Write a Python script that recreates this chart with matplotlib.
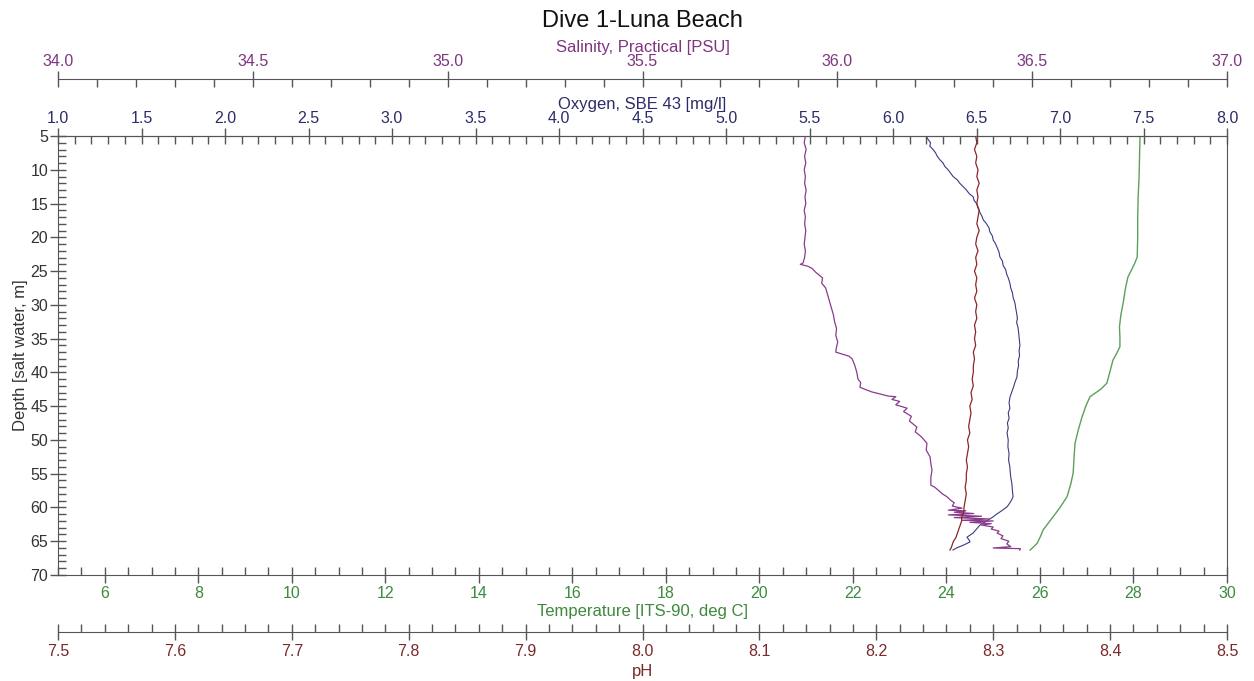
import matplotlib.pyplot as plt
from matplotlib.ticker import MultipleLocator

plt.rcParams['font.family'] = ['Liberation Sans', 'DejaVu Sans']

# --- data (depth in m) ---
sal_depth = [5.0, 6, 7, 8, 9, 10, 11, 12, 13, 14, 15, 16, 17, 18, 19, 20, 21, 22, 23,
             23.8, 24.0, 24.3, 24.6, 25.2, 26.0, 26.8, 27.5, 28.5, 29.7, 30.5, 31.5,
             32.5, 33.5, 34.5, 35.5, 36.5, 37.0, 37.6, 38.0, 39.0, 40.0, 41.0, 41.5,
             42.2, 42.6, 42.9, 43.2, 43.5, 43.6, 44.0, 44.3, 44.8, 45.3, 45.8, 46.5,
             47.2, 48.1, 48.8, 49.5, 50.5, 51.5, 52.5, 53.5, 54.5, 55.5, 56.7, 57.0,
             57.6, 58.0, 58.4, 58.9, 59.3, 59.8, 60.1, 60.4, 60.5, 60.7, 60.9, 61.1,
             61.3, 61.5, 61.7, 61.9, 62.0, 62.2, 62.4, 62.6, 62.9, 63.2, 63.5, 63.8,
             64.2, 64.6, 65.0, 65.4, 65.8, 66.0, 66.1, 66.3]
salinity = [35.918, 35.915, 35.920, 35.916, 35.919, 35.915, 35.918, 35.916, 35.920,
            35.917, 35.919, 35.915, 35.918, 35.916, 35.919, 35.917, 35.915, 35.918,
            35.916, 35.912, 35.905, 35.925, 35.935, 35.945, 35.962, 35.960, 35.970,
            35.975, 35.981, 35.985, 35.990, 35.993, 35.998, 35.996, 36.001, 35.997,
            35.996, 36.030, 36.038, 36.045, 36.050, 36.053, 36.060, 36.058, 36.075,
            36.089, 36.110, 36.130, 36.150, 36.140, 36.160, 36.150, 36.179, 36.170,
            36.190, 36.185, 36.204, 36.200, 36.215, 36.230, 36.228, 36.238, 36.240,
            36.243, 36.240, 36.240, 36.250, 36.262, 36.270, 36.281, 36.290, 36.300,
            36.295, 36.320, 36.285, 36.330, 36.300, 36.350, 36.285, 36.370, 36.300,
            36.390, 36.320, 36.400, 36.340, 36.395, 36.370, 36.400, 36.395, 36.415,
            36.410, 36.425, 36.420, 36.440, 36.435, 36.445, 36.400, 36.470, 36.468]

ox_depth = [5.1, 5.5, 6.0, 6.5, 7.0, 7.5, 8.0, 8.5, 9.0, 9.5, 10, 10.5, 11, 11.5, 12,
            12.5, 13, 13.5, 14, 14.5, 15, 15.7, 16.3, 17, 17.4, 18, 18.6, 19.2, 19.8,
            20.4, 21, 21.6, 22.2, 22.9, 23.5, 24.2, 24.8, 25.4, 26.0, 26.8, 27.5, 28.2,
            29.0, 29.7, 30.5, 31.2, 32.0, 32.6, 33.3, 34.0, 34.8, 35.5, 36.0, 36.8,
            37.5, 38.3, 39.0, 39.8, 40.7, 41.5, 42.3, 43.0, 43.6, 44.5, 45.3, 46.0,
            46.8, 47.5, 48.2, 49.0, 50.0, 51.0, 52.0, 53.0, 54.0, 54.5, 55.5, 56.5,
            57.5, 58.4, 58.9, 59.5, 59.9, 60.5, 61.0, 61.4, 62.0, 62.6, 63.2, 63.8,
            64.4, 64.8, 65.1, 65.6, 66.0, 66.3]
oxygen = [6.200, 6.210, 6.225, 6.220, 6.240, 6.255, 6.265, 6.280, 6.300, 6.310, 6.330,
          6.345, 6.360, 6.385, 6.400, 6.420, 6.440, 6.455, 6.480, 6.485, 6.500, 6.510,
          6.520, 6.535, 6.540, 6.560, 6.575, 6.580, 6.595, 6.600, 6.615, 6.625, 6.635,
          6.640, 6.655, 6.660, 6.675, 6.680, 6.690, 6.700, 6.705, 6.715, 6.720, 6.730,
          6.735, 6.740, 6.745, 6.740, 6.748, 6.752, 6.755, 6.758, 6.760, 6.755, 6.758,
          6.750, 6.752, 6.745, 6.742, 6.730, 6.720, 6.710, 6.701, 6.695, 6.700, 6.690,
          6.695, 6.685, 6.690, 6.683, 6.690, 6.688, 6.695, 6.692, 6.700, 6.701, 6.705,
          6.712, 6.715, 6.719, 6.710, 6.695, 6.683, 6.650, 6.620, 6.599, 6.560, 6.521,
          6.500, 6.479, 6.443, 6.455, 6.461, 6.420, 6.380, 6.359]

ph_depth = [5, 6, 7, 8, 9, 10, 11, 12, 13, 14, 15, 16, 17, 18, 19, 20, 21, 22, 23, 24,
            25, 26, 27, 28, 29, 30, 31, 32, 33, 34, 35, 36, 37, 38, 39, 40, 41, 42, 43,
            44, 45, 46, 47, 48, 49, 50, 51, 52, 53, 54, 55, 56, 57, 58, 59, 60, 60.5,
            61, 61.5, 62, 62.5, 63, 63.5, 64, 64.5, 65, 65.5, 66, 66.3]
ph = [8.285, 8.286, 8.284, 8.286, 8.285, 8.287, 8.286, 8.288, 8.286, 8.287, 8.286,
      8.288, 8.287, 8.286, 8.288, 8.286, 8.285, 8.287, 8.285, 8.286, 8.284, 8.286,
      8.285, 8.286, 8.284, 8.286, 8.285, 8.286, 8.284, 8.285, 8.284, 8.285, 8.283,
      8.284, 8.283, 8.283, 8.282, 8.283, 8.281, 8.282, 8.280, 8.281, 8.280, 8.279,
      8.280, 8.278, 8.279, 8.278, 8.277, 8.278, 8.277, 8.277, 8.276, 8.277, 8.276,
      8.275, 8.275, 8.274, 8.273, 8.273, 8.272, 8.271, 8.270, 8.269, 8.268, 8.266,
      8.265, 8.264, 8.263]

temp_depth = [5.1, 8, 11, 14, 17, 20, 22.9, 23.8, 24.8, 25.9, 27.5, 29.7, 31.5, 33.3,
              34.8, 36.2, 37.2, 38.2, 39.8, 41.6, 42.5, 43.6, 45.0, 46.6, 48.5, 50.5,
              52.5, 54.9, 56.5, 58.4, 60.0, 61.4, 62.3, 63.3, 64.3, 65.3, 65.8, 66.3]
temperature = [28.14, 28.13, 28.12, 28.10, 28.09, 28.09, 28.08, 28.03, 27.96, 27.88,
               27.83, 27.78, 27.73, 27.70, 27.71, 27.71, 27.64, 27.56, 27.50, 27.43,
               27.30, 27.07, 26.98, 26.90, 26.82, 26.75, 26.73, 26.71, 26.66, 26.58,
               26.43, 26.28, 26.18, 26.07, 26.01, 25.94, 25.87, 25.79]

sal_color = '#7f3580'
ox_color = '#2c2c6c'
temp_color = '#3d8a3d'
ph_color = '#7a2a2a'
axis_grey = '#555555'
fs = 11.5
lfs = 12

fig = plt.figure(figsize=(12.54, 6.81), dpi=100)
ax = fig.add_axes([58 / 1254, 1 - 575 / 681, 1169 / 1254, 439 / 681])

ax_ox = ax.twiny()
ax_sal = ax.twiny()
ax_ph = ax.twiny()

# temperature / depth host axes
ax.plot(temperature, temp_depth, color='#5c9f5c', lw=1.0)
ax.set_xlim(5, 30)
ax.set_ylim(70, 5)
ax.xaxis.set_major_locator(MultipleLocator(2))
ax.xaxis.set_minor_locator(MultipleLocator(0.5))
ax.yaxis.set_major_locator(MultipleLocator(5))
ax.yaxis.set_minor_locator(MultipleLocator(1))
ax.set_xticks([6, 8, 10, 12, 14, 16, 18, 20, 22, 24, 26, 28, 30])
ax.tick_params(axis='x', which='major', direction='inout', length=12, width=1,
               colors=axis_grey, labelcolor=temp_color, labelsize=fs, pad=2)
ax.tick_params(axis='x', which='minor', direction='in', length=6, width=1,
               colors=axis_grey)
ax.tick_params(axis='y', which='major', direction='inout', length=12, width=1,
               colors=axis_grey, labelcolor='#333333', labelsize=fs, pad=1)
ax.tick_params(axis='y', which='minor', direction='in', length=5.5, width=1,
               colors=axis_grey)
ax.set_xlabel('Temperature [ITS-90, deg C]', color=temp_color, fontsize=lfs,
              labelpad=2)
ax.set_ylabel('Depth [salt water, m]', color='#333333', fontsize=lfs, labelpad=2)
for s in ['left', 'right', 'bottom', 'top']:
    ax.spines[s].set_color(axis_grey)

# oxygen on the top spine
ax_ox.plot(oxygen, ox_depth, color='#3a3a82', lw=0.8)
ax_ox.set_xlim(1, 8)
ax_ox.xaxis.set_major_locator(MultipleLocator(0.5))
ax_ox.xaxis.set_minor_locator(MultipleLocator(0.1))
ax_ox.xaxis.set_major_formatter('{x:.1f}')
ax_ox.tick_params(axis='x', which='major', direction='inout', length=12, width=1,
                  colors=axis_grey, labelcolor=ox_color, labelsize=fs, pad=1)
ax_ox.tick_params(axis='x', which='minor', direction='in', length=5.5, width=1,
                  colors=axis_grey)
ax_ox.set_xlabel('Oxygen, SBE 43 [mg/l]', color=ox_color, fontsize=lfs,
                 labelpad=2)
for s in ['left', 'right', 'bottom']:
    ax_ox.spines[s].set_visible(False)
ax_ox.spines['top'].set_color(axis_grey)

# salinity on an offset top spine
ax_sal.plot(salinity, sal_depth, color='#8a3a8c', lw=0.9)
ax_sal.set_xlim(34, 37)
ax_sal.xaxis.set_major_locator(MultipleLocator(0.5))
ax_sal.xaxis.set_minor_locator(MultipleLocator(0.1))
ax_sal.xaxis.set_major_formatter('{x:.1f}')
ax_sal.spines['top'].set_position(('outward', 41))
for s in ['left', 'right', 'bottom']:
    ax_sal.spines[s].set_visible(False)
ax_sal.spines['top'].set_color(axis_grey)
ax_sal.tick_params(axis='x', which='major', direction='inout', length=12, width=1,
                   colors=axis_grey, labelcolor=sal_color, labelsize=fs, pad=1)
ax_sal.tick_params(axis='x', which='minor', direction='in', length=5.5, width=1,
                   colors=axis_grey)
ax_sal.set_xlabel('Salinity, Practical [PSU]', color=sal_color, fontsize=lfs,
                  labelpad=2)

# pH on an offset bottom spine
ax_ph.plot(ph, ph_depth, color='#8c2626', lw=0.9)
ax_ph.set_xlim(7.5, 8.5)
ax_ph.xaxis.set_ticks_position('bottom')
ax_ph.xaxis.set_label_position('bottom')
ax_ph.spines['bottom'].set_position(('outward', 41))
for s in ['left', 'right', 'top']:
    ax_ph.spines[s].set_visible(False)
ax_ph.spines['bottom'].set_visible(True)
ax_ph.spines['bottom'].set_color(axis_grey)
ax_ph.xaxis.set_major_locator(MultipleLocator(0.1))
ax_ph.xaxis.set_minor_locator(MultipleLocator(0.02))
ax_ph.xaxis.set_major_formatter('{x:.1f}')
ax_ph.tick_params(axis='x', which='major', direction='inout', length=12, width=1,
                  colors=axis_grey, labelcolor=ph_color, labelsize=fs, pad=3)
ax_ph.tick_params(axis='x', which='minor', direction='in', length=5.5, width=1,
                  colors=axis_grey)
ax_ph.set_xlabel('pH', color=ph_color, fontsize=lfs, labelpad=3.5)

fig.text(642 / 1254, 1 - 27 / 681, 'Dive 1-Luna Beach', ha='center',
         va='baseline', fontsize=17, color='#111111')

fig.savefig('out.png', dpi=100)
